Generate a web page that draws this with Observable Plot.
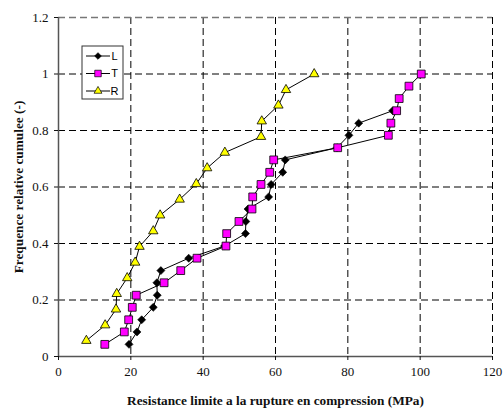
<!DOCTYPE html>
<html><head><meta charset="utf-8">
<script src="https://cdn.jsdelivr.net/npm/d3@7"></script>
<script src="https://cdn.jsdelivr.net/npm/@observablehq/plot@0.6"></script>
<style>body{margin:0;background:#fff}#chart{position:relative;width:504px;height:408px}</style>
</head><body><div id="chart"></div>
<script>
const xTicks = [0, 20, 40, 60, 80, 100, 120];
const yTicks = [0, 0.2, 0.4, 0.6, 0.8, 1, 1.2];
const seriesNames = ["L", "T", "R"];

const L_x = [19.5, 21.7, 23.0, 26.2, 27.3, 27.2, 28.3, 36.0, 45.9, 51.7, 51.8, 52.4, 58.1, 58.8, 62.0, 62.7, 77.0, 80.3, 83.0, 92.4];
const L_y = [0.043, 0.087, 0.130, 0.174, 0.217, 0.261, 0.304, 0.348, 0.391, 0.435, 0.478, 0.522, 0.565, 0.609, 0.652, 0.696, 0.739, 0.783, 0.826, 0.870];

const T_x = [12.8, 18.2, 19.4, 20.4, 21.5, 29.2, 33.8, 38.3, 46.3, 46.5, 49.9, 53.5, 53.7, 56.0, 58.4, 59.5, 77.2, 91.2, 91.9, 93.5, 94.2, 96.9, 100.3];
const T_y = [0.043, 0.087, 0.130, 0.174, 0.217, 0.261, 0.304, 0.348, 0.391, 0.435, 0.478, 0.522, 0.565, 0.609, 0.652, 0.696, 0.739, 0.783, 0.826, 0.870, 0.913, 0.957, 1.0];

const R_x = [7.7, 12.9, 15.9, 16.1, 19.0, 21.2, 22.4, 26.2, 28.1, 33.5, 38.1, 41.1, 46.0, 56.0, 56.2, 60.8, 62.9, 70.7];
const R_y = [0.056, 0.111, 0.167, 0.222, 0.278, 0.333, 0.389, 0.444, 0.500, 0.556, 0.611, 0.667, 0.722, 0.778, 0.833, 0.889, 0.944, 1.0];

const L = L_x.map((x, i) => ({x, y: L_y[i]}));
const T = T_x.map((x, i) => ({x, y: T_y[i]}));
const R = R_x.map((x, i) => ({x, y: R_y[i]}));

const styles = {
  L: {symbol: "diamond2", fill: "black", r: 3.6},
  T: {symbol: "square", fill: "#ff00ff", r: 4.4},
  R: {symbol: "triangle", fill: "#ffff00", r: 3.5}
};

const serif = "'Liberation Serif','Times New Roman',serif";

const chart = Plot.plot({
  width: 504,
  height: 408,
  marginLeft: 58,
  marginRight: 12,
  marginTop: 17,
  marginBottom: 52,
  style: {fontFamily: serif, fontSize: "13px", color: "#111", background: "white"},
  x: {domain: [0, 120], ticks: xTicks, label: null},
  y: {domain: [0, 1.2], ticks: yTicks, label: null},
  marks: [
    Plot.ruleX(xTicks.filter(d => d > 0), {stroke: "black", strokeWidth: 1, strokeDasharray: "7,4"}),
    Plot.ruleY(yTicks.filter(d => d > 0 && d < 1.2), {stroke: "black", strokeWidth: 1, strokeDasharray: "7,4"}),
    Plot.ruleY([1.2], {stroke: "#777", strokeWidth: 1.5, strokeDasharray: "7,4"}),
    Plot.ruleX([0], {stroke: "#555", strokeWidth: 1.5}),
    Plot.ruleY([0], {stroke: "#555", strokeWidth: 1.5}),
    Plot.axisX({ticks: xTicks, tickSize: 4, tickPadding: 6, fontSize: 13, label: "Resistance limite a la rupture en compression (MPa)", labelAnchor: "center", labelArrow: "none", labelOffset: 48}),
    Plot.axisY({ticks: yTicks, tickSize: 4, tickPadding: 6, fontSize: 13, tickFormat: d => String(d), label: "Frequence relative cumulee (-)", labelAnchor: "center", labelArrow: "none", labelOffset: 45}),
    Plot.line(L, {x: "x", y: "y", stroke: "black", strokeWidth: 1}),
    Plot.dot(L, {x: "x", y: "y", ...styles.L, stroke: "black", strokeWidth: 0.6}),
    Plot.line(T, {x: "x", y: "y", stroke: "black", strokeWidth: 1}),
    Plot.dot(T, {x: "x", y: "y", ...styles.T, stroke: "black", strokeWidth: 0.8}),
    Plot.line(R, {x: "x", y: "y", stroke: "black", strokeWidth: 1}),
    Plot.dot(R, {x: "x", y: "y", ...styles.R, stroke: "black", strokeWidth: 0.8})
  ]
});

const svg = d3.select(chart);
svg.selectAll("[aria-label='x-axis label'] text, [aria-label='y-axis label'] text")
  .attr("font-weight", "bold").attr("font-size", 13.3).attr("fill", "#111");
svg.selectAll("[aria-label='x-axis label'], [aria-label='y-axis label']").attr("font-size", 13.3).attr("font-weight", "bold");

// Legend
const lg = svg.append("g").attr("transform", "translate(82,46)");
lg.append("rect").attr("width", 41).attr("height", 53).attr("fill", "white").attr("stroke", "#333").attr("stroke-width", 1);
seriesNames.forEach((name, i) => {
  const yy = 10 + i * 17.5;
  lg.append("line").attr("x1", 4).attr("x2", 28).attr("y1", yy).attr("y2", yy).attr("stroke", "black");
  const st = styles[name];
  const sym = {diamond2: d3.symbolDiamond2, square: d3.symbolSquare, triangle: d3.symbolTriangle}[st.symbol];
  lg.append("path").attr("transform", `translate(16,${yy})`)
    .attr("d", d3.symbol(sym, Math.PI * st.r * st.r * 0.7)())
    .attr("fill", st.fill).attr("stroke", "black").attr("stroke-width", 0.7);
  lg.append("text").attr("x", 32.5).attr("y", yy).attr("dy", "0.36em")
    .attr("style", "font-family:'Liberation Sans',Arial,sans-serif;font-size:11px;fill:#000;stroke:none")
    .text(name);
});

document.getElementById("chart").appendChild(chart);
</script></body></html>
